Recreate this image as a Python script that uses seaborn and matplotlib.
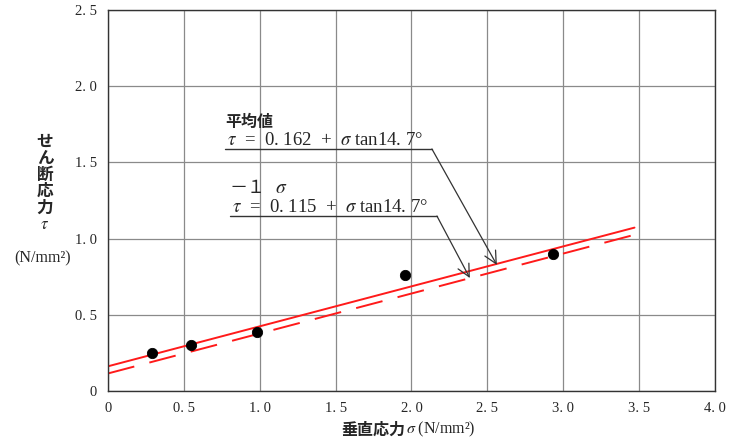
import numpy as np
import matplotlib
matplotlib.use("Agg")
import matplotlib.pyplot as plt
import seaborn as sns
import pandas as pd

# measured points (sigma, tau)
sigma_pts = [0.29, 0.55, 0.98, 1.96, 2.93]
tau_pts = [0.25, 0.30, 0.39, 0.76, 0.90]

# fitted lines, end points
fit_x = [0.0, 3.47]
mean_y = [0.162, 1.072]
minus_y = [0.115, 1.025]

x_ticks = [0, 0.5, 1.0, 1.5, 2.0, 2.5, 3.0, 3.5, 4.0]
x_labels = ["0", "0. 5", "1. 0", "1. 5", "2. 0", "2. 5", "3. 0", "3. 5", "4. 0"]
y_ticks = [0, 0.5, 1.0, 1.5, 2.0, 2.5]
y_labels = ["0", "0. 5", "1. 0", "1. 5", "2. 0", "2. 5"]

sns.set_style("white")
FAM = ["Liberation Serif", "Noto Sans CJK JP", "DejaVu Sans"]
plt.rcParams["font.family"] = FAM
plt.rcParams["mathtext.fontset"] = "stix"

fig = plt.figure(figsize=(7.31, 4.44), dpi=100)
ax = fig.add_axes([0.1477, 0.1194, 0.8303, 0.8581])

df_pts = pd.DataFrame({"sigma": sigma_pts, "tau": tau_pts})
df_mean = pd.DataFrame({"sigma": fit_x, "tau": mean_y})
df_minus = pd.DataFrame({"sigma": fit_x, "tau": minus_y})

sns.lineplot(data=df_mean, x="sigma", y="tau", ax=ax, color="#ff1a1a", linewidth=1.4)
sns.lineplot(data=df_minus, x="sigma", y="tau", ax=ax, color="#ff1a1a", linewidth=1.4)
ax.lines[-1].set_dashes([14, 8])
sns.scatterplot(data=df_pts, x="sigma", y="tau", ax=ax, color="black", s=55,
                edgecolor="black", zorder=5)

ax.set_xlim(0, 4.0)
ax.set_ylim(0, 2.5)
ax.set_xticks(x_ticks)
ax.set_xticklabels(x_labels, fontsize=10.5)
ax.set_yticks(y_ticks)
ax.set_yticklabels(y_labels, fontsize=10.5)
ax.tick_params(length=0, pad=8)
ax.grid(True, color="#8a8a8a", linewidth=0.9)
for s in ax.spines.values():
    s.set_color("#333333")
    s.set_linewidth(1.0)
ax.set_xlabel("")
ax.set_ylabel("")

# annotations
ax.text(0.775, 1.735, "平均値", fontsize=11.5, family=FAM, fontweight="bold",
        va="baseline")
ax.text(0.785, 1.614, r"$\tau$  =  0. 162  +  $\sigma$ tan14. 7°", fontsize=13.5,
        family=FAM, va="baseline")
ax.plot([0.771, 2.135], [1.588, 1.588], color="#333333", linewidth=1.0)
ax.annotate("", xy=(2.563, 0.827), xytext=(2.135, 1.588),
            arrowprops=dict(arrowstyle="->", color="#333333", lw=0.9,
                            mutation_scale=22, shrinkA=0, shrinkB=0))

ax.text(0.80, 1.30, "－１", fontsize=13, family=FAM, va="baseline")
ax.text(1.10, 1.30, r"$\sigma$", fontsize=14, family=FAM, va="baseline")
ax.text(0.82, 1.175, r"$\tau$  =  0. 115  +  $\sigma$ tan14. 7°", fontsize=13.5,
        family=FAM, va="baseline")
ax.plot([0.804, 2.168], [1.148, 1.148], color="#333333", linewidth=1.0)
ax.annotate("", xy=(2.385, 0.741), xytext=(2.168, 1.148),
            arrowprops=dict(arrowstyle="->", color="#333333", lw=0.9,
                            mutation_scale=22, shrinkA=0, shrinkB=0))

# axis titles
fig.text(0.555, 0.012, "垂直応力", ha="right", va="bottom",
         fontsize=11.5, family=FAM, fontweight="bold")
fig.text(0.556, 0.012, r"$\sigma$ (N/mm²)", ha="left", va="bottom",
         fontsize=11.5, family=FAM)
ylab_chars = ["せ", "ん", "断", "応", "力"]
for i, ch in enumerate(ylab_chars):
    ypix = 143 + i * 16.4
    fig.text(45 / 731, 1 - ypix / 444, ch, ha="center", va="center",
             fontsize=12, family=FAM, fontweight="bold")
fig.text(45 / 731, 1 - 225 / 444, r"$\tau$", ha="center", va="center",
         fontsize=12, family=FAM)
fig.text(43 / 731, 1 - 258 / 444, "(N/mm²)", ha="center", va="center",
         fontsize=11.5, family=FAM)

fig.savefig("out.png", dpi=100)
